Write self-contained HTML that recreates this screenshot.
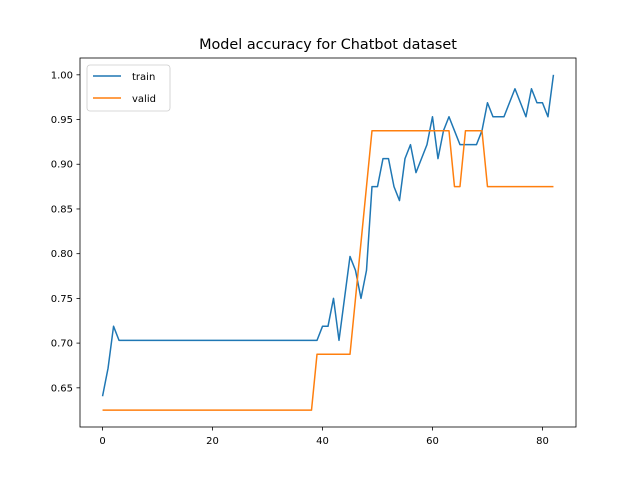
<!DOCTYPE html>
<html><head><meta charset="utf-8"><style>
body{margin:0;background:#fff;}
svg{display:block;font-family:"DejaVu Sans","Liberation Sans",sans-serif;}
</style></head><body>
<svg id="chart" width="640" height="480">
<rect width="640" height="480" fill="#fff"/>
<text x="328" y="49" font-size="14.4" text-anchor="middle">Model accuracy for Chatbot dataset</text>
<g id="plot"></g>
</svg>
<script>
const epochs = Array.from({length: 83}, (_, i) => i);
const trainAcc = [0.6406,0.6719,0.7188,
0.7031,0.7031,0.7031,0.7031,0.7031,0.7031,0.7031,0.7031,0.7031,0.7031,
0.7031,0.7031,0.7031,0.7031,0.7031,0.7031,0.7031,0.7031,0.7031,0.7031,
0.7031,0.7031,0.7031,0.7031,0.7031,0.7031,0.7031,0.7031,0.7031,0.7031,
0.7031,0.7031,0.7031,0.7031,0.7031,0.7031,0.7031,
0.7188,0.7188,0.75,0.7031,0.75,0.7969,0.7813,0.75,0.7813,0.875,0.875,0.9063,0.9063,0.875,0.8594,0.9063,0.9219,0.8906,0.9063,0.9219,0.9531,0.9063,0.9375,0.9531,0.9375,0.9219,0.9219,0.9219,0.9219,0.9375,0.9688,0.9531,0.9531,0.9531,0.9688,0.9844,0.9688,0.9531,0.9844,0.9688,0.9688,0.9531,1.0];
const validAcc = [0.625,0.625,0.625,0.625,0.625,0.625,0.625,0.625,0.625,0.625,0.625,0.625,0.625,0.625,0.625,0.625,0.625,0.625,0.625,0.625,0.625,0.625,0.625,0.625,0.625,0.625,0.625,0.625,0.625,0.625,0.625,0.625,0.625,0.625,0.625,0.625,0.625,0.625,0.625,
0.6875,0.6875,0.6875,0.6875,0.6875,0.6875,0.6875,0.75,0.8125,0.875,0.9375,0.9375,0.9375,0.9375,0.9375,0.9375,0.9375,0.9375,0.9375,0.9375,0.9375,0.9375,0.9375,0.9375,0.9375,0.875,0.875,0.9375,0.9375,0.9375,0.9375,0.875,0.875,0.875,0.875,0.875,0.875,0.875,0.875,0.875,0.875,0.875,0.875,0.875];
const xTicks = [0,20,40,60,80];
const yTicks = [0.65,0.70,0.75,0.80,0.85,0.90,0.95,1.00];
const seriesNames = ["train","valid"];

const L=80,R=576,T=58,B=427;
const xMin=-4.1,xMax=86.1,yMin=0.6062,yMax=1.0188;
const sx=v=>L+(v-xMin)/(xMax-xMin)*(R-L);
const sy=v=>B-(v-yMin)/(yMax-yMin)*(B-T);
const NS="http://www.w3.org/2000/svg";
const g=document.getElementById('plot');
function mk(tag,attrs,parent){const e=document.createElementNS(NS,tag);for(const k in attrs)e.setAttribute(k,attrs[k]);(parent||g).appendChild(e);return e;}

xTicks.forEach(t=>{
  const x=sx(t);
  const tk=mk('line',{x1:x,x2:x,y1:B,y2:B+3.5,stroke:'#000','stroke-width':0.8});
  
  
  const tx=mk('text',{x:x,y:B+17,'font-size':10,'text-anchor':'middle'});
  tx.textContent=t;
  
  
});
yTicks.forEach(t=>{
  const y=sy(t);
  const tk=mk('line',{x1:L-3.5,x2:L,y1:y,y2:y,stroke:'#000','stroke-width':0.8});
  
  
  const tx=mk('text',{x:L-7,y:y+3.5,'font-size':10,'text-anchor':'end'});
  tx.textContent=t.toFixed(2);
  
  
});
const colors=['#1f77b4','#ff7f0e'];
[trainAcc,validAcc].forEach((s,i)=>{
  const p=mk('polyline',{points:s.map((v,j)=>sx(epochs[j])+','+sy(v)).join(' '),fill:'none',stroke:colors[i],'stroke-width':1.5,'stroke-linejoin':'round'});
  
  
});
const frame=mk('rect',{x:L,y:T,width:R-L,height:B-T,fill:'none',stroke:'#000','stroke-width':0.8});


const lg=mk('g',{});


mk('rect',{x:87,y:65,width:83,height:46,rx:3,fill:'#fff',stroke:'#ccc','stroke-width':0.8},lg);
seriesNames.forEach((n,i)=>{
  const y=76+i*22;
  const ln=mk('line',{x1:93,x2:121,y1:y,y2:y,stroke:colors[i],'stroke-width':1.5},lg);
  
  
  const t=mk('text',{x:132,y:y+4,'font-size':10},lg);
  t.textContent=n;
  
  
});
</script>
</body></html>
